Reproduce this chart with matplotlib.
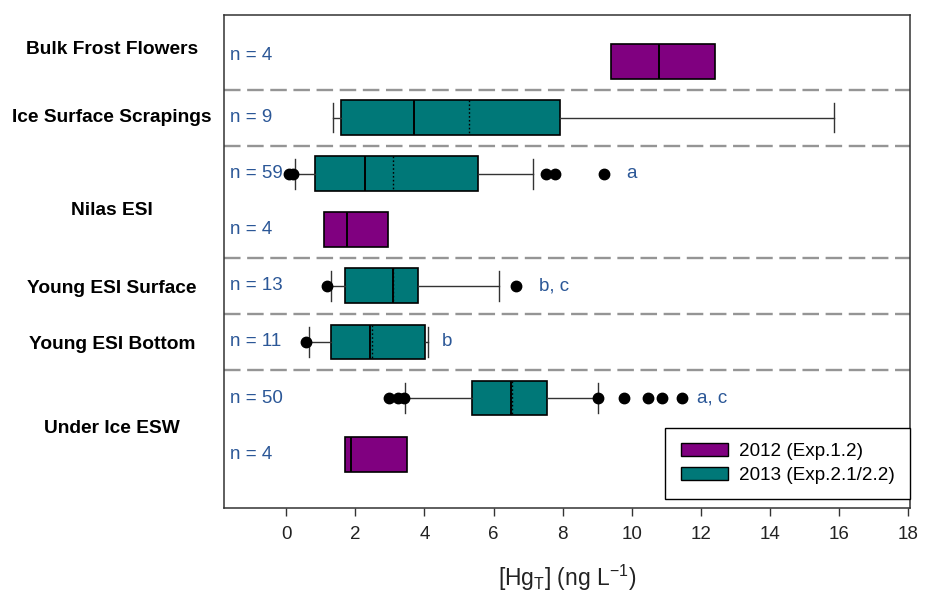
import matplotlib
matplotlib.use("Agg")
import matplotlib.pyplot as plt
from matplotlib.patches import Patch

plt.rcParams['font.family'] = ['Liberation Sans', 'DejaVu Sans']

# ---- data ----
group_labels = ["Bulk Frost Flowers", "Ice Surface Scrapings", "Nilas ESI",
                "Young ESI Surface", "Young ESI Bottom", "Under Ice ESW"]
group_label_rows = [-0.22, 1.0, 2.65, 4.04, 5.05, 6.55]
n_labels = ["n = 4", "n = 9", "n = 59", "n = 4", "n = 13", "n = 11", "n = 50", "n = 4"]
years = [2012, 2013, 2013, 2012, 2013, 2013, 2013, 2012]
q1 = [9.40, 1.59, 0.84, 1.10, 1.69, 1.30, 5.38, 1.70]
med = [10.79, 3.69, 2.28, 1.76, 3.09, 2.42, 6.50, 1.87]
q3 = [12.42, 7.91, 5.54, 2.94, 3.80, 4.02, 7.56, 3.48]
whislo = [9.40, 1.35, 0.26, 1.10, 1.29, 0.65, 3.45, 1.70]
whishi = [12.42, 15.84, 7.13, 2.94, 6.15, 4.09, 9.01, 3.48]
means = [None, 5.29, 3.09, None, 3.09, 2.47, 6.52, None]
outliers = [[], [], [0.07, 0.19, 7.53, 7.79, 9.20], [], [1.19, 6.66], [0.58],
            [2.96, 3.22, 3.41, 9.01, 9.78, 10.47, 10.88, 11.46], []]
sig_letters = ["", "", "a", "", "b, c", "b", "a, c", ""]
sig_x = [None, None, 9.85, None, 7.3, 4.5, 11.9, None]
separators = [0.5, 1.5, 3.5, 4.5, 5.5]
xticks = [0, 2, 4, 6, 8, 10, 12, 14, 16, 18]
legend_labels = ["2012 (Exp.1.2)", "2013 (Exp.2.1/2.2)"]

colors = {2012: "#800080", 2013: "#007878"}
nblue = "#2B5797"

fig = plt.figure(figsize=(9.25, 5.92), dpi=100)
ax = fig.add_axes([0.2422, 0.1419, 0.7416, 0.8328])

for sep in separators:
    ax.axhline(sep, color="#959595", lw=1.7, linestyle=(0, (7, 2.8)), zorder=1)

for i in range(len(n_labels)):
    st = dict(whislo=whislo[i], q1=q1[i], med=med[i], q3=q3[i],
              whishi=whishi[i], fliers=outliers[i])
    has_mean = means[i] is not None
    if has_mean:
        st["mean"] = means[i]
    is2013 = years[i] == 2013
    kw = dict(positions=[i], widths=0.62, patch_artist=True,
              showcaps=is2013, showmeans=has_mean, meanline=True,
              boxprops=dict(facecolor=colors[years[i]], edgecolor="black", linewidth=1.2),
              medianprops=dict(color="black", linewidth=1.4),
              whiskerprops=dict(color="#333333", linewidth=1.0),
              capprops=dict(color="#333333", linewidth=1.0),
              meanprops=dict(color="black", linestyle=(0, (1.2, 1.6)), linewidth=1.0),
              flierprops=dict(marker="o", markerfacecolor="black", markeredgecolor="black",
                              markersize=7.5, linestyle="none"),
              capwidths=[0.53])
    try:
        ax.bxp([st], orientation="horizontal", **kw)
    except TypeError:
        ax.bxp([st], vert=False, **kw)
    ax.text(0.009, i if i != 0 else i - 0.1, n_labels[i], transform=ax.get_yaxis_transform(),
            ha="left", va="center", color=nblue, fontsize=13.5, zorder=5)
    if sig_letters[i]:
        ax.text(sig_x[i], i, sig_letters[i], ha="left", va="center",
                color=nblue, fontsize=13.5)

for lab, row in zip(group_labels, group_label_rows):
    ax.text(-0.163, row, lab, transform=ax.get_yaxis_transform(), ha="center",
            va="center", fontsize=13.8, fontweight="bold", clip_on=False)

ax.set_xlim(-1.8, 18.05)
ax.set_ylim(7.96, -0.83)
ax.set_yticks([])
ax.set_xticks(xticks)
ax.set_xticklabels([str(t) for t in xticks], fontsize=13.5, color="#222222")
ax.tick_params(axis="x", direction="out", length=6, width=1, color="#333333", pad=7)
for s in ax.spines.values():
    s.set_color("#333333")
    s.set_linewidth(1.1)
ax.set_xlabel(r"[Hg$_\mathregular{T}$] (ng L$^\mathregular{-1}$)", fontsize=16.5, labelpad=14,
              color="#222222")

handles = [Patch(facecolor=colors[2012], edgecolor="black", linewidth=1.0),
           Patch(facecolor=colors[2013], edgecolor="black", linewidth=1.0)]
leg = ax.legend(handles, legend_labels, loc="lower right", bbox_to_anchor=(1.0, 0.018),
                borderaxespad=0, fontsize=13.6, handlelength=2.5, handleheight=0.7,
                handletextpad=0.6, labelspacing=0.35, borderpad=0.8, fancybox=False,
                framealpha=1, edgecolor="black")
leg.get_frame().set_linewidth(1.0)

fig.savefig("out.png", dpi=100)
